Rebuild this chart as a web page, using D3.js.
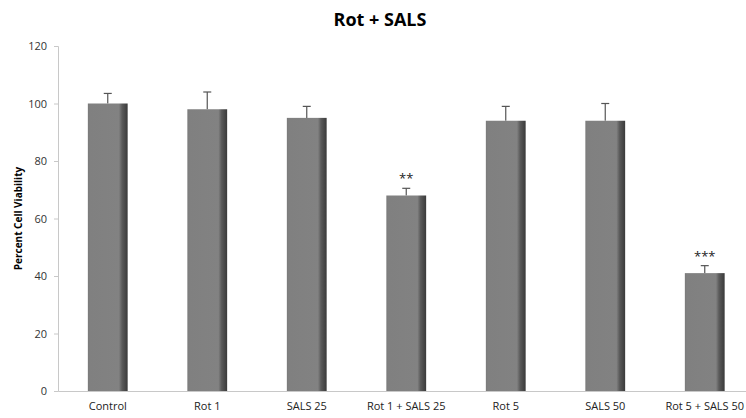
<!DOCTYPE html>
<html><head><meta charset="utf-8">
<script src="https://cdn.jsdelivr.net/npm/d3@7"></script>
<style>body{margin:0;background:#fff}svg{display:block}</style>
</head><body>
<script>
const categories = ["Control","Rot 1","SALS 25","Rot 1 + SALS 25","Rot 5","SALS 50","Rot 5 + SALS 50"];
const values = [100, 98, 95, 68, 94, 94, 41];
const errors = [3.5, 6, 4, 2.5, 5, 6, 2.6];
const marks = ["", "", "", "**", "", "", "***"];
const yTicks = [0, 20, 40, 60, 80, 100, 120];

const W = 746, H = 418;
const m = {left: 58, top: 46, bottom: 27};
const plotRight = 754.5;
const svg = d3.select("body").append("svg").attr("width", W).attr("height", H);

const x = d3.scaleBand().domain(categories).range([m.left, plotRight]).paddingInner(0.6).paddingOuter(0.3);
const y = d3.scaleLinear().domain([0, 120]).range([H - m.bottom, m.top]);

const defs = svg.append("defs");
const g = defs.append("linearGradient").attr("id", "bg").attr("x1", 0).attr("x2", 1).attr("y1", 0).attr("y2", 0);
g.append("stop").attr("offset", "0%").attr("stop-color", "#7a7a7a");
g.append("stop").attr("offset", "5%").attr("stop-color", "#808080");
g.append("stop").attr("offset", "78%").attr("stop-color", "#828282");
g.append("stop").attr("offset", "86%").attr("stop-color", "#5a5a5a");
g.append("stop").attr("offset", "100%").attr("stop-color", "#3a3a3a");

const font = "'Open Sans', 'Noto Sans', sans-serif";

svg.append("text").attr("x", 380).attr("y", 26).attr("text-anchor", "middle")
  .attr("font-family", font).attr("font-weight", "bold").attr("font-size", 18).attr("fill", "#000")
  .text("Rot + SALS");

// y axis
const ya = svg.append("g").attr("transform", `translate(${m.left},0)`)
  .call(d3.axisLeft(y).tickValues(yTicks).tickSize(4).tickPadding(7));
ya.select(".domain").attr("stroke", "#c8c8c8");
ya.selectAll(".tick line").attr("stroke", "#c8c8c8");
ya.selectAll(".tick text").attr("font-family", font).attr("font-size", 11).attr("fill", "#333");

// x axis
const xa = svg.append("g").attr("transform", `translate(0,${H - m.bottom})`)
  .call(d3.axisBottom(x).tickSize(0).tickPadding(11));
xa.select(".domain").attr("stroke", "#c8c8c8");
xa.selectAll(".tick text").attr("font-family", font).attr("font-size", 11).attr("fill", "#222");

svg.append("text").attr("transform", `translate(22,${(m.top + H - m.bottom) / 2}) rotate(-90)`)
  .attr("text-anchor", "middle").attr("font-family", font).attr("font-weight", "bold")
  .attr("font-size", 10).attr("fill", "#000").text("Percent Cell Viability");

const data = categories.map((c, i) => ({c, v: values[i], e: errors[i], s: marks[i]}));

// error bars
const eg = svg.append("g").attr("stroke", "#555").attr("stroke-width", 1.2);
data.forEach(d => {
  const cx = x(d.c) + x.bandwidth() / 2;
  eg.append("line").attr("x1", cx).attr("x2", cx).attr("y1", y(d.v)).attr("y2", y(d.v + d.e));
  eg.append("line").attr("x1", cx - 4).attr("x2", cx + 4).attr("y1", y(d.v + d.e)).attr("y2", y(d.v + d.e));
});

svg.append("g").selectAll("rect").data(data).join("rect")
  .attr("x", d => x(d.c)).attr("width", x.bandwidth())
  .attr("y", d => y(d.v)).attr("height", d => y(0) - y(d.v))
  .attr("fill", "url(#bg)");

svg.append("g").selectAll("text").data(data.filter(d => d.s)).join("text")
  .attr("x", d => x(d.c) + x.bandwidth() / 2).attr("y", d => y(d.v + d.e) - 5)
  .attr("text-anchor", "middle").attr("font-family", font).attr("font-size", 13)
  .attr("fill", "#222").text(d => d.s);
</script>
</body></html>
